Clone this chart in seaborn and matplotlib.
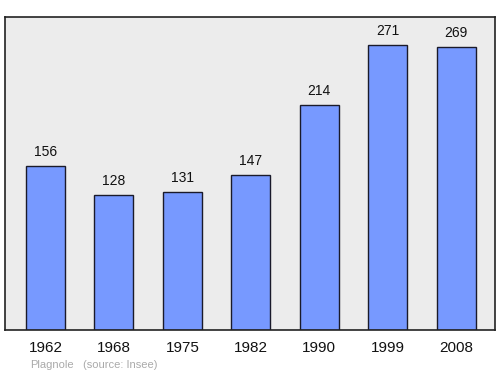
import matplotlib
matplotlib.use("Agg")
import matplotlib.pyplot as plt
import seaborn as sns
import pandas as pd

years = ["1962", "1968", "1975", "1982", "1990", "1999", "2008"]
population = [156, 128, 131, 147, 214, 271, 269]

df = pd.DataFrame({"year": years, "pop": population})

sns.set_theme(style="white")
plt.rcParams['font.family'] = ['Liberation Sans', 'DejaVu Sans']

fig = plt.figure(figsize=(5, 3.74), dpi=100)
ax = fig.add_axes([5/500, 1 - 330/374, 490/500, 313/374])
ax.set_facecolor("#ececec")

sns.barplot(data=df, x="year", y="pop", color="#7799ff", saturation=1,
            width=0.57, edgecolor="#1a1a2a", linewidth=1.0, ax=ax)

for i, v in enumerate(population):
    ax.text(i, v + 13.5, str(v), ha="center", va="center", fontsize=10, color="#111111")

ax.set_xlim(-0.592, 6.57)
ax.set_ylim(0, 297.6)
ax.set_yticks([])
ax.set_xlabel("")
ax.set_ylabel("")
ax.tick_params(axis="x", length=0, pad=8, labelsize=11, colors="#111111")
for s in ax.spines.values():
    s.set_visible(True)
    s.set_color("#222222")
    s.set_linewidth(1.2)

fig.text(30/500, 1 - 365/374, "Plagnole", fontsize=8, color="#aaaaaa", va="center")
fig.text(83/500, 1 - 365/374, "(source: Insee)", fontsize=8, color="#aaaaaa", va="center")

fig.savefig("out.png", dpi=100)
